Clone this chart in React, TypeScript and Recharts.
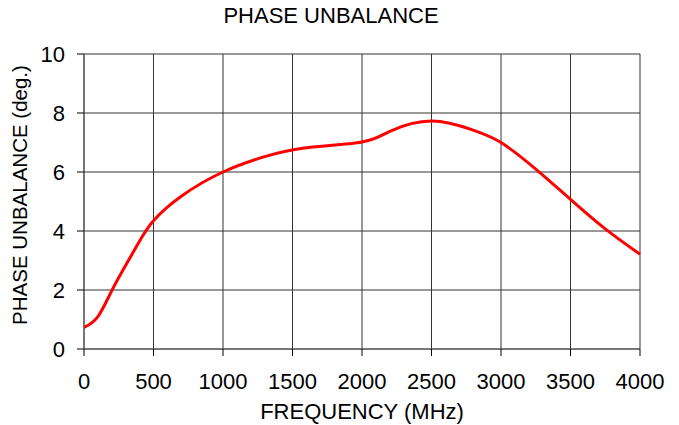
import { LineChart, Line, XAxis, YAxis, CartesianGrid, Label } from "recharts";

const freqMHz = [0, 100, 200, 300, 400, 500, 700, 1000, 1300, 1600, 2000, 2200, 2500, 2800, 3000, 3250, 3500, 3750, 4000];
const phaseDeg = [0.73, 1.1, 1.98, 2.84, 3.66, 4.35, 5.18, 6.0, 6.52, 6.82, 7.02, 7.38, 7.73, 7.42, 7.0, 6.1, 5.07, 4.07, 3.21];
const xTicks = [0, 500, 1000, 1500, 2000, 2500, 3000, 3500, 4000];
const yTicks = [0, 2, 4, 6, 8, 10];

const data = freqMHz.map((f, i) => ({ f, v: phaseDeg[i] }));

const font = "'Liberation Sans', Arial, sans-serif";
const tickStyle = { fill: "#000", fontSize: 22, fontFamily: font };

export default function App() {
  return (
    <div style={{ position: "absolute", left: 0, top: 0, width: 679, height: 425, background: "#fff", fontFamily: font }}>
      <div style={{ position: "absolute", top: 5, left: 0, width: 662, textAlign: "center", fontSize: 22, lineHeight: "22px", color: "#000" }}>
        PHASE UNBALANCE
      </div>
      <LineChart width={679} height={425} data={data} margin={{ top: 54, right: 39, bottom: 16, left: 0 }}>
        <CartesianGrid stroke="#333" strokeWidth={1} />
        <XAxis
          dataKey="f"
          type="number"
          domain={[0, 4000]}
          ticks={xTicks}
          interval={0}
          height={60}
          stroke="#555"
          tickLine={{ stroke: "#000" }}
          tickSize={7}
          tickMargin={17}
          tick={tickStyle}
        >
          <Label
            content={({ viewBox }: any) => (
              <text x={viewBox.x + viewBox.width / 2} y={419} textAnchor="middle" fontSize={22} fontFamily={font} fill="#000">
                FREQUENCY (MHz)
              </text>
            )}
          />
        </XAxis>
        <YAxis
          type="number"
          domain={[0, 10]}
          ticks={yTicks}
          interval={0}
          width={84}
          stroke="#555"
          tickLine={{ stroke: "#000" }}
          tickSize={7}
          tickMargin={12}
          tick={tickStyle}
        >
          <Label
            content={() => (
              <text
                x={27}
                y={195}
                transform="rotate(-90, 27, 195)"
                textAnchor="middle"
                fontSize={20.5}
                fontFamily={font}
                fill="#000"
              >
                PHASE UNBALANCE (deg.)
              </text>
            )}
          />
        </YAxis>
        <Line type="natural" dataKey="v" stroke="#ff0000" strokeWidth={3} dot={false} isAnimationActive={false} />
      </LineChart>
    </div>
  );
}
